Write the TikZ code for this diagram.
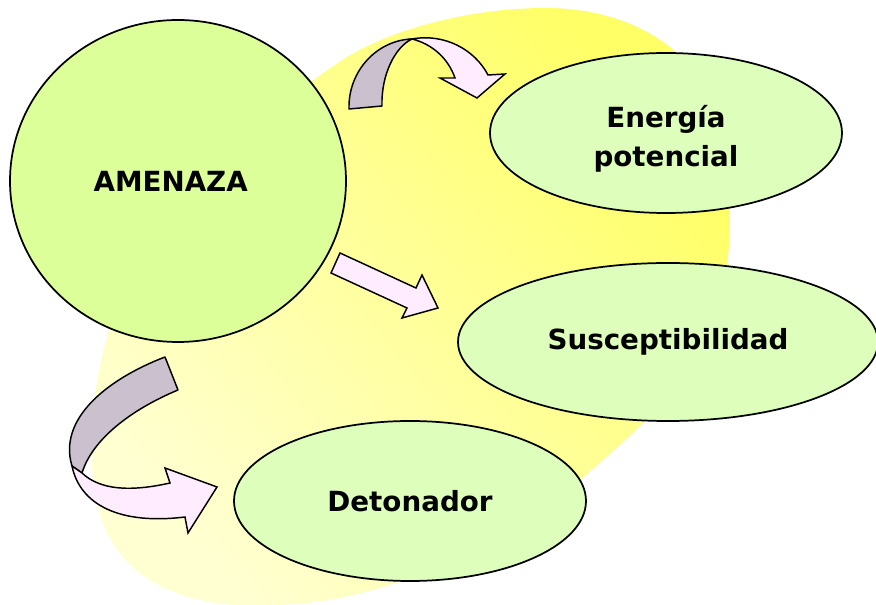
\documentclass[tikz,border=0pt]{standalone}
\usepackage{fontspec}
\setmainfont{DejaVu Sans}
\usetikzlibrary{shapes.geometric}
\definecolor{blobhi}{RGB}{255,255,102}
\definecolor{bloblo}{RGB}{255,255,210}
\definecolor{greenA}{RGB}{221,255,153}
\definecolor{greenB}{RGB}{221,255,187}
\definecolor{backc}{RGB}{202,192,206}
\definecolor{frontc}{RGB}{255,236,255}
\tikzset{
  bubble/.style={ellipse, draw=black, line width=1.3pt, fill=greenB, inner sep=0pt,
    font=\fontsize{20.8}{29}\bfseries\selectfont, align=center},
  ribbonback/.style={draw=black, line width=1.1pt, fill=backc, line join=round},
  ribbonfront/.style={draw=black, line width=1.1pt, fill=frontc, line join=miter},
}
\begin{document}
\begin{tikzpicture}[x=0.75pt,y=-0.75pt]
\useasboundingbox (0,0) rectangle (876,605);
% background blob
\shade[top color=blobhi, bottom color=bloblo, shading angle=-50]
  (120,300) .. controls (170,200) and (250,120) .. (347,57)
  .. controls (400,25) and (480,8) .. (545,8)
  .. controls (620,8) and (680,40) .. (705,90)
  .. controls (730,140) and (735,220) .. (725,280)
  .. controls (715,360) and (650,420) .. (580,480)
  .. controls (500,540) and (400,600) .. (280,605)
  .. controls (170,612) and (105,570) .. (95,490)
  .. controls (85,440) and (95,360) .. (120,300) -- cycle;
% nodes
\node[bubble, fill=greenA, minimum width=252pt, minimum height=241.5pt] (amenaza) at (178,181) {AMENAZA\kern 11pt};
\node[bubble, minimum width=264pt, minimum height=120pt] (energia) at (666,133) {\rule{0pt}{25pt}Energía\\potencial};
\node[bubble, minimum width=315pt, minimum height=118.5pt] (suscep) at (668,342) {Susceptibilidad};
\node[bubble, minimum width=264pt, minimum height=120pt] (deton) at (410,501) {Detonador};
% top curved arrow
\draw[ribbonback] (349,109) .. controls (348,70) and (378,40) .. (412,39)
  .. controls (395,47) and (381,75) .. (382,106) -- cycle;
\draw[ribbonfront] (412,39) .. controls (445,33) and (475,50) .. (488,75)
  -- (505,74) -- (477,98) -- (440,78) -- (455,78)
  .. controls (448,58) and (432,44) .. (412,39) -- cycle;
% middle straight arrow
\draw[ribbonfront] (331,273) -- (340,253) -- (416,288) -- (422,275) -- (438,308) -- (402,318) -- (407,308) -- cycle;
% bottom curved arrow
\draw[ribbonback] (165,357) -- (178,390) .. controls (130,410) and (92,440) .. (82,473)
  -- (72,466) .. controls (58,420) and (105,380) .. (165,357) -- cycle;
\draw[ribbonfront] (72,466) .. controls (80,505) and (120,525) .. (185,517)
  -- (188,533) -- (217,487) -- (165,468) -- (170,483)
  .. controls (130,492) and (100,490) .. (82,473) -- cycle;
\end{tikzpicture}
\end{document}
